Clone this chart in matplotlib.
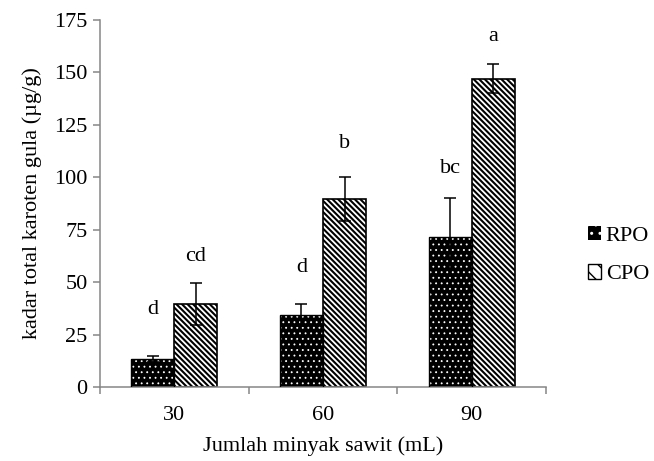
import matplotlib
matplotlib.use("Agg")
import matplotlib.pyplot as plt
import numpy as np
from matplotlib.patches import Patch

categories = ["30", "60", "90"]
rpo = [13.4, 34.3, 71.5]
rpo_err = [1.4, 5.2, 18.5]
cpo = [39.6, 89.6, 147]
cpo_err = [10.2, 10.3, 7]
rpo_labels = ["d", "d", "bc"]
cpo_labels = ["cd", "b", "a"]
rpo_label_y = [37, 57, 104]
cpo_label_y = [62, 116, 167]

plt.rcParams['font.family'] = ['Liberation Serif', 'DejaVu Serif']
FS = 16

fig = plt.figure(figsize=(6.54, 4.61), dpi=100)
ax = fig.add_axes([100/654, 1 - 387/461, 446/654, 367/461])

x = np.arange(len(categories))
w = 0.29
grey = '#868686'
dot_hatch = '...'
stripe_hatch = '\\' * 6

with plt.rc_context({'hatch.linewidth': 0.6}):
    ax.bar(x - w/2, rpo, w, color='black', edgecolor='white', hatch=dot_hatch, linewidth=0, zorder=2)
ax.bar(x - w/2, rpo, w, fill=False, edgecolor='black', linewidth=1.0, zorder=3)
with plt.rc_context({'hatch.linewidth': 1.5}):
    ax.bar(x + w/2, cpo, w, color='white', edgecolor='black', hatch=stripe_hatch, linewidth=1.2, zorder=2)

ax.errorbar(x - w/2, rpo, yerr=rpo_err, fmt='none', ecolor='black', elinewidth=1.1, capsize=4.2, capthick=1.1, zorder=4)
ax.errorbar(x + w/2, cpo, yerr=cpo_err, fmt='none', ecolor='black', elinewidth=1.1, capsize=4.2, capthick=1.1, zorder=4)

for i in range(len(categories)):
    ax.text(x[i] - w/2, rpo_label_y[i], rpo_labels[i], ha='center', va='center', fontsize=FS)
    ax.text(x[i] + w/2, cpo_label_y[i], cpo_labels[i], ha='center', va='center', fontsize=FS)

ax.set_xlim(-0.5, 2.5)
ax.set_ylim(0, 175)
ax.set_yticks(np.arange(0, 176, 25))
ax.set_xticks(x)
ax.set_xticklabels(categories)
ax.set_xticks([-0.5, 0.5, 1.5, 2.5], minor=True)
ax.tick_params(axis='x', which='major', length=0, pad=14, labelsize=FS)
ax.tick_params(axis='x', which='minor', length=5, width=1.1, color=grey, direction='out')
ax.tick_params(axis='y', length=5, width=1.1, color=grey, labelsize=FS, direction='out', pad=4)

for s in ['top', 'right']:
    ax.spines[s].set_visible(False)
for s in ['left', 'bottom']:
    ax.spines[s].set_color(grey)
    ax.spines[s].set_linewidth(1.1)

ax.set_xlabel("Jumlah minyak sawit (mL)", fontsize=FS, labelpad=8)
ax.set_ylabel("kadar total karoten gula (µg/g)", fontsize=FS, labelpad=9)

with plt.rc_context({'hatch.linewidth': 0.6}):
    h1 = Patch(facecolor='black', edgecolor='white', hatch='..', linewidth=0)
with plt.rc_context({'hatch.linewidth': 1.3}):
    h2 = Patch(facecolor='white', edgecolor='black', hatch='\\\\', linewidth=1.0)
leg = fig.legend([h1, h2], ["RPO", "CPO"], loc='center left',
                 bbox_to_anchor=(588/654, 1 - 255/461),
                 frameon=False, fontsize=FS, handlelength=0.6, handleheight=0.6,
                 handletextpad=0.2, labelspacing=0.85, borderpad=0, borderaxespad=0)

fig.savefig("out.png", dpi=100)
